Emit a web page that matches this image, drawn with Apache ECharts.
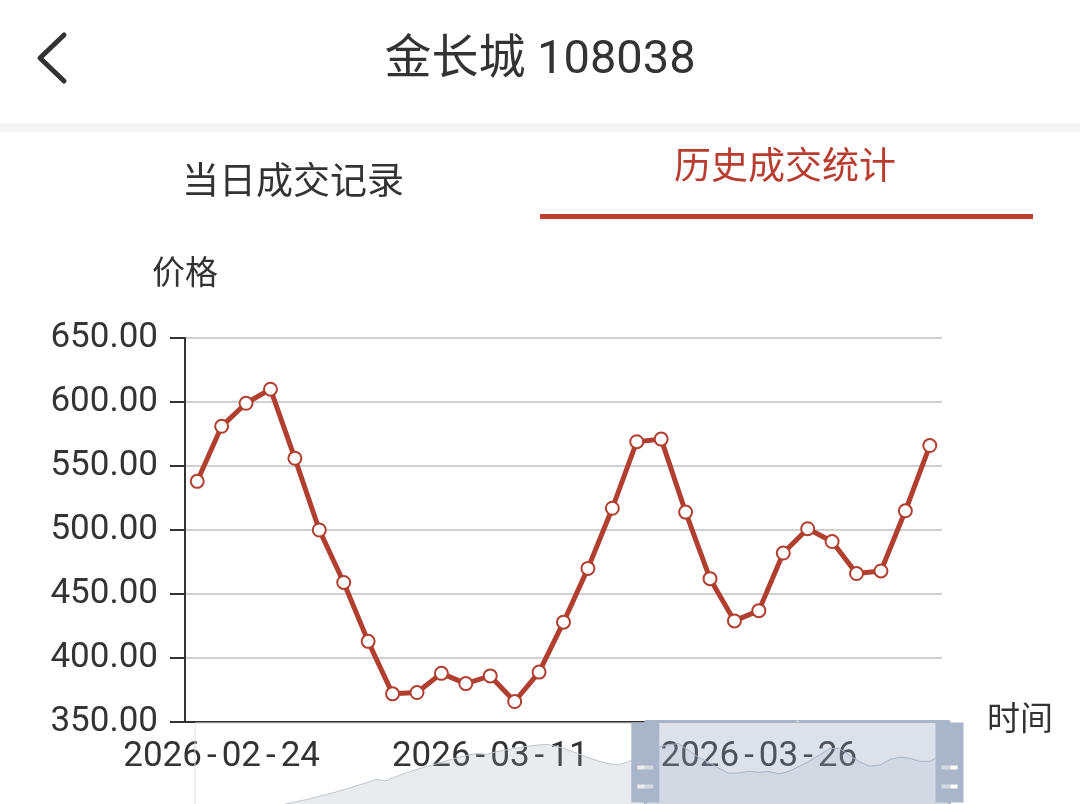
<!DOCTYPE html>
<html>
<head>
<meta charset="utf-8">
<title>金长城 108038</title>
<script src="https://cdn.jsdelivr.net/npm/echarts@6/dist/echarts.min.js"></script>
<style>
  html, body { margin: 0; padding: 0; background: #fff; }
  body { width: 1080px; height: 804px; overflow: hidden; position: relative; font-family: Roboto, "Noto Sans CJK SC", sans-serif; }
  #chart { position: absolute; left: 0; top: 0; width: 1080px; height: 804px; }
  .back { position: absolute; left: 30px; top: 28px; }
  .title { position: absolute; left: 0; top: 30px; width: 1080px; line-height: 54px; text-align: center; font-size: 47px; color: #333; }
  .sep { position: absolute; left: 0; top: 123px; width: 1080px; height: 9px; background: #f4f4f4; }
  .tab { position: absolute; width: 540px; font-size: 37px; line-height: 44px; text-align: center; }
  .tab1 { left: 23px; top: 160px; color: #333; }
  .tab2 { left: 515px; top: 145px; color: #b83c2f; }
  .tabline { position: absolute; left: 540px; top: 214px; width: 493px; height: 5px; background: #c0402f; }
</style>
</head>
<body>
<div id="chart"></div>
<svg class="back" width="50" height="64" viewBox="0 0 50 64">
  <polyline points="34,7 10,30 34,53" fill="none" stroke="#333" stroke-width="5" stroke-linecap="round" stroke-linejoin="round"/>
</svg>
<div class="title">金长城 108038</div>
<div class="sep"></div>
<div class="tab tab1">当日成交记录</div>
<div class="tab tab2">历史成交统计</div>
<div class="tabline"></div>

<script>
// trading days (weekdays), only the last 31 are in the zoom window
const dates = [
  '2025-12-22', '2025-12-23', '2025-12-24', '2025-12-25', '2025-12-26',
  '2025-12-29', '2025-12-30', '2025-12-31', '2026-01-01', '2026-01-02',
  '2026-01-05', '2026-01-06', '2026-01-07', '2026-01-08', '2026-01-09',
  '2026-01-12', '2026-01-13', '2026-01-14', '2026-01-15', '2026-01-16',
  '2026-01-19', '2026-01-20', '2026-01-21', '2026-01-22', '2026-01-23',
  '2026-01-26', '2026-01-27', '2026-01-28', '2026-01-29', '2026-01-30',
  '2026-02-02', '2026-02-03', '2026-02-04', '2026-02-05', '2026-02-06',
  '2026-02-09', '2026-02-10', '2026-02-11', '2026-02-12', '2026-02-13',
  '2026-02-16', '2026-02-17', '2026-02-18', '2026-02-19', '2026-02-20',
  '2026-02-23', '2026-02-24', '2026-02-25', '2026-02-26', '2026-02-27',
  '2026-03-02', '2026-03-03', '2026-03-04', '2026-03-05', '2026-03-06',
  '2026-03-09', '2026-03-10', '2026-03-11', '2026-03-12', '2026-03-13',
  '2026-03-16', '2026-03-17', '2026-03-18', '2026-03-19', '2026-03-20',
  '2026-03-23', '2026-03-24', '2026-03-25', '2026-03-26', '2026-03-27',
  '2026-03-30', '2026-03-31', '2026-04-01', '2026-04-02', '2026-04-03',
  '2026-04-06'
]

// older prices, only seen in the slider's data shadow
const earlyPrices = [
  50, 55, 60, 66, 72, 80, 88, 98, 110, 125,
  142, 160, 180, 200, 222, 245, 270, 295, 322, 312,
  345, 375, 402, 425, 448, 472, 495, 515, 530, 524,
  545, 560, 575, 588, 598, 602, 585, 560, 530, 500,
  472, 450, 440, 462, 505
]

// prices in the visible window (2026-02-23 .. 2026-04-06)
const recentPrices = [
  538, 581, 599, 610, 556, 500, 459, 413, 372, 373,
  388, 380, 386, 366, 389, 428, 470, 517, 569, 571,
  514, 462, 429, 437, 482, 501, 491, 466, 468, 515,
  566
]

const prices = earlyPrices.concat(recentPrices)
const firstLabelIndex = 46 // 2026-02-24
const labelStep = 11

const lineColor = '#b03f30'
const textColor = '#333'
const fontFamily = 'Roboto, "Noto Sans CJK SC", sans-serif'
const handleColor = '#a9b5c9'

// slider handle: thin stem on top, block with two grip slots (holes)
const handleIcon = 'path://M-1.5,0L1.5,0L1.5,32L-1.5,32Z' +
  'M-14,32L14,32L14,112L-14,112Z' +
  'M-8,46L-8,50L8,50L8,46Z' +
  'M-8,65L-8,69L8,69L8,65Z'

const chart = echarts.init(document.getElementById('chart'))

chart.setOption({
  animation: false,
  grid: {
    left: 185,
    right: 138,
    top: 338,
    bottom: 82
  },
  xAxis: {
    type: 'category',
    data: dates,
    boundaryGap: true,
    name: '时间',
    nameGap: 45,
    nameTextStyle: { fontSize: 33, color: textColor, fontFamily },
    axisLine: { lineStyle: { color: textColor, width: 2 } },
    axisTick: {
      length: 13,
      lineStyle: { color: textColor, width: 2 }
    },
    axisLabel: {
      interval: (index) => index >= firstLabelIndex && (index - firstLabelIndex) % labelStep === 0,
      formatter: (value) => value.split('-').join('{h|-}'),
      fontSize: 35,
      margin: 18,
      color: textColor,
      fontFamily,
      rich: {
        h: { fontSize: 35, color: textColor, fontFamily, padding: [0, 5] }
      }
    }
  },
  yAxis: {
    type: 'value',
    min: 350,
    max: 650,
    interval: 50,
    name: '价格',
    nameGap: 46,
    nameTextStyle: { fontSize: 33, color: textColor, fontFamily, align: 'center' },
    axisLine: { show: true, lineStyle: { color: textColor, width: 2 } },
    axisTick: {
      show: true,
      length: 15,
      lineStyle: { color: textColor, width: 2 }
    },
    axisLabel: {
      formatter: (v) => v.toFixed(2),
      fontSize: 35,
      margin: 27,
      color: textColor,
      fontFamily
    },
    splitLine: { lineStyle: { color: '#d0d0d0', width: 2 } }
  },
  dataZoom: [{
    type: 'slider',
    xAxisIndex: 0,
    start: 59.5,
    end: 100,
    left: 192,
    right: 132,
    top: 720,
    height: 112,
    showDetail: false,
    borderColor: '#d9dce1',
    fillerColor: 'rgba(143,160,186,0.3)',
    handleIcon: handleIcon,
    handleSize: '100%',
    handleStyle: { color: handleColor, borderColor: 'rgba(0,0,0,0)', borderWidth: 0, shadowBlur: 0 },
    moveHandleSize: 3,
    moveHandleStyle: { color: handleColor, opacity: 1 },
    dataBackground: {
      lineStyle: { color: '#bfc5cd', width: 1 },
      areaStyle: { color: '#9aa3b0', opacity: 0.22 }
    },
    selectedDataBackground: {
      lineStyle: { color: '#b4bcc8', width: 1 },
      areaStyle: { color: '#9aa6b8', opacity: 0.15 }
    }
  }],
  series: [{
    name: '价格',
    type: 'line',
    data: prices,
    symbol: 'emptyCircle',
    symbolSize: 13,
    itemStyle: { color: lineColor, borderWidth: 3 },
    lineStyle: { color: lineColor, width: 5 }
  }]
})
</script>
</body>
</html>
